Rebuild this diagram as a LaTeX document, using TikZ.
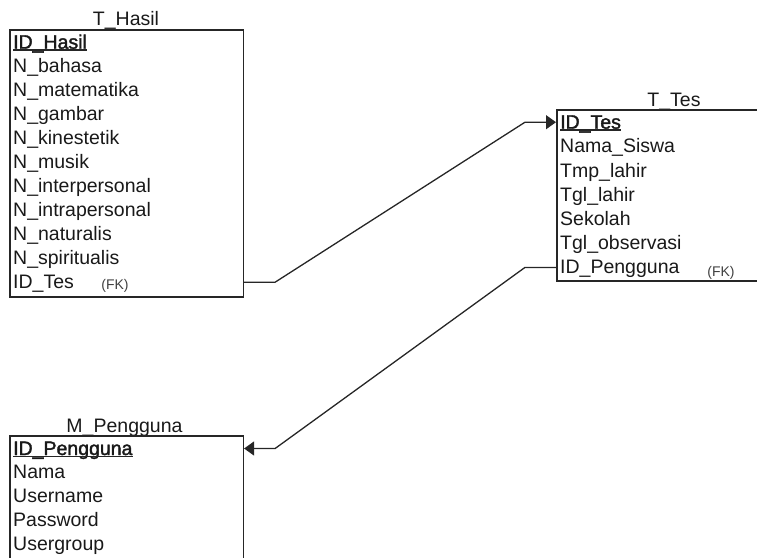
\documentclass[tikz,border=0pt]{standalone}
\usepackage{fontspec}
\setmainfont{Liberation Sans}
\newfontfamily\pkfont[FakeBold=1.8]{Liberation Sans}
\usetikzlibrary{arrows.meta}
\begin{document}
\begin{tikzpicture}[x=1pt,y=-1pt,
  tbl/.style={draw=black!85, line width=1.5pt, anchor=north west, inner sep=0pt,
    minimum width=#1},
  rowtext/.style={anchor=base west, inner sep=0pt, text height=13pt, text depth=0pt,
    font=\fontsize{19.5}{22}\selectfont, text=black!90},
  pktext/.style={rowtext, font=\pkfont\fontsize{19.5}{22}\selectfont},
  title/.style={anchor=base, inner sep=0pt, font=\fontsize{19.5}{22}\selectfont, text=black!90},
  fk/.style={anchor=base, inner sep=0pt, font=\fontsize{14}{16}\selectfont, text=black!75},
  pkline/.style={line width=1.8pt, draw=black!85},
  conn/.style={line width=1.3pt, draw=black!85},
  tip/.style={-{Triangle[length=10pt,width=14pt]}}
]
\useasboundingbox (0,0) rectangle (757,557);
\clip (0,0) rectangle (757,557);

% ---------- T_Hasil ----------
\node[title] (hasilTitle) at (126,25) {T\_Hasil};
\node[tbl=233.3pt, minimum height=267pt] (hasil) at (9.3,29) {};
\node[pktext] (h0) at (13,48.7) {ID\_Hasil};
\foreach \t [count=\i from 1] in {N\_bahasa,N\_matematika,N\_gambar,N\_kinestetik,N\_musik,N\_interpersonal,N\_intrapersonal,N\_naturalis,N\_spiritualis,ID\_Tes}
  \node[rowtext] (h\i) at (13,48.7+24*\i) {\t};
\node[fk] (hfk) at (115,289.5) {(FK)};
\draw[pkline] ([yshift=-1.5pt]h0.base west) -- ([yshift=-1.5pt]h0.base east);

% ---------- T_Tes ----------
\node[title] (tesTitle) at (674,106.5) {T\_Tes};
\node[tbl=244pt, minimum height=170.7pt] (tes) at (556,109.3) {};
\node[pktext] (t0) at (560,128.7) {ID\_Tes};
\foreach \t [count=\i from 1] in {Nama\_Siswa,Tmp\_lahir,Tgl\_lahir,Sekolah,Tgl\_observasi,ID\_Pengguna}
  \node[rowtext] (t\i) at (560,128.7+24.2*\i) {\t};
\node[fk] (tfk) at (721,276.5) {(FK)};
\draw[pkline] ([yshift=-1.5pt]t0.base west) -- ([yshift=-1.5pt]t0.base east);

% ---------- M_Pengguna ----------
\node[title] (pengTitle) at (124.5,432) {M\_Pengguna};
\node[tbl=233.3pt, minimum height=170pt] (peng) at (9.3,435) {};
\node[pktext] (m0) at (13,455) {ID\_Pengguna};
\foreach \t [count=\i from 1] in {Nama,Username,Password,Usergroup}
  \node[rowtext] (m\i) at (13,455+23.8*\i) {\t};
\draw[pkline] ([yshift=-1.5pt]m0.base west) -- ([yshift=-1.5pt]m0.base east);

% ---------- connectors ----------
\draw[conn, tip] (h10.center -| hasil.east) -- ++(31,0)
  -- ([xshift=-31pt]t0.center -| tes.west) -- (t0.center -| tes.west);
\draw[conn, tip] (t6.center -| tes.west) -- ++(-31,0)
  -- ([xshift=31pt]m0.center -| peng.east) -- (m0.center -| peng.east);
\end{tikzpicture}
\end{document}
